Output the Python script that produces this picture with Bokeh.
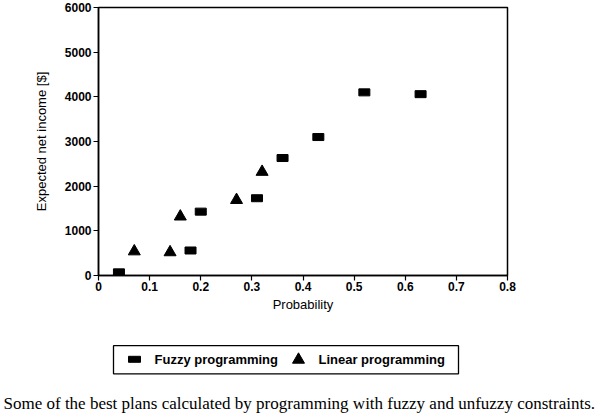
from bokeh.plotting import figure
from bokeh.models import Range1d, FixedTicker, Title
from bokeh.layouts import column
from bokeh.core.properties import value
from bokeh.embed import file_html
from bokeh.resources import INLINE

fuzzy_x = [0.04, 0.18, 0.20, 0.31, 0.36, 0.43, 0.52, 0.63]
fuzzy_y = [70, 560, 1430, 1730, 2630, 3100, 4100, 4060]
linear_x = [0.07, 0.14, 0.16, 0.27, 0.32]
linear_y = [540, 520, 1320, 1690, 2320]
x_ticks = [0, 0.1, 0.2, 0.3, 0.4, 0.5, 0.6, 0.7, 0.8]
y_ticks = [0, 1000, 2000, 3000, 4000, 5000, 6000]
legend_labels = ["Fuzzy programming", "Linear programming"]
caption = "Some of the best plans calculated by programming with fuzzy and unfuzzy constraints."

SANS = "Liberation Sans"
SERIF = "Liberation Serif"

# ---- main chart ----
p = figure(width=606, height=318, output_backend="svg", toolbar_location=None,
           x_range=Range1d(0, 0.8), y_range=Range1d(0, 6000),
           min_border_left=98, min_border_right=99, min_border_top=7, min_border_bottom=43)
p.xgrid.visible = False
p.ygrid.visible = False
p.outline_line_color = "black"
p.outline_line_width = 1.5
p.background_fill_color = "white"
p.border_fill_color = "white"

for ax in (p.xaxis[0], p.yaxis[0]):
    ax.axis_line_width = 1.5
    ax.axis_line_color = "black"
    ax.major_tick_line_color = "black"
    ax.major_tick_line_width = 1.2
    ax.major_tick_out = 5
    ax.major_tick_in = 0
    ax.minor_tick_line_color = None
    ax.major_label_text_font = SANS
    ax.major_label_text_font_style = "bold"
    ax.major_label_text_font_size = "12px"
    ax.major_label_text_color = "black"
    ax.axis_label_text_font = SANS
    ax.axis_label_text_font_style = "normal"
    ax.axis_label_text_font_size = "13px"
    ax.axis_label_text_color = "black"

p.xaxis.ticker = FixedTicker(ticks=x_ticks)
p.yaxis.ticker = FixedTicker(ticks=y_ticks)
p.xaxis.major_label_overrides = {0: "0"}
p.xaxis.axis_label = "Probability"
p.yaxis.axis_label = "Expected net income [$]"
p.xaxis.major_label_standoff = 1
p.yaxis.major_label_standoff = 2
p.xaxis.axis_label_standoff = 3
p.yaxis.axis_label_standoff = 13

p.rect(fuzzy_x, fuzzy_y, width=11, height=7, width_units="screen", height_units="screen",
       fill_color="black", line_color="black")
p.scatter(linear_x, linear_y, marker="triangle", size=12,
          fill_color="black", line_color="black")

# ---- legend box (frame aligned with the chart above: pixels 98..507) and caption ----
q = figure(width=606, height=100, output_backend="svg", toolbar_location=None,
           x_range=Range1d(98, 507), y_range=Range1d(75, 0),
           x_axis_type=None, y_axis_type=None,
           min_border_left=98, min_border_right=99, min_border_top=0, min_border_bottom=25)
q.xgrid.visible = False
q.ygrid.visible = False
q.outline_line_color = None
q.background_fill_color = "white"
q.border_fill_color = "white"

q.quad(left=[113], right=[458], top=[30], bottom=[61],
       fill_color="white", line_color="black", line_width=1.3)
q.rect([134], [45], width=12, height=6, width_units="screen", height_units="screen",
       fill_color="black", line_color="black")
q.scatter([298], [45.5], marker="triangle", size=12, fill_color="black", line_color="black")
q.text([154, 318], [45, 45], text=legend_labels, text_baseline="middle",
       text_font=value(SANS), text_font_style="bold", text_font_size="13px", text_color="black")
q.add_layout(Title(text=caption, align="left", offset=-95, standoff=11,
                   text_font=SERIF, text_font_size="17px", text_font_style="normal",
                   text_color="black"), "below")

layout = column(p, q, spacing=0)
open("out.html", "w").write(file_html(layout, INLINE))
